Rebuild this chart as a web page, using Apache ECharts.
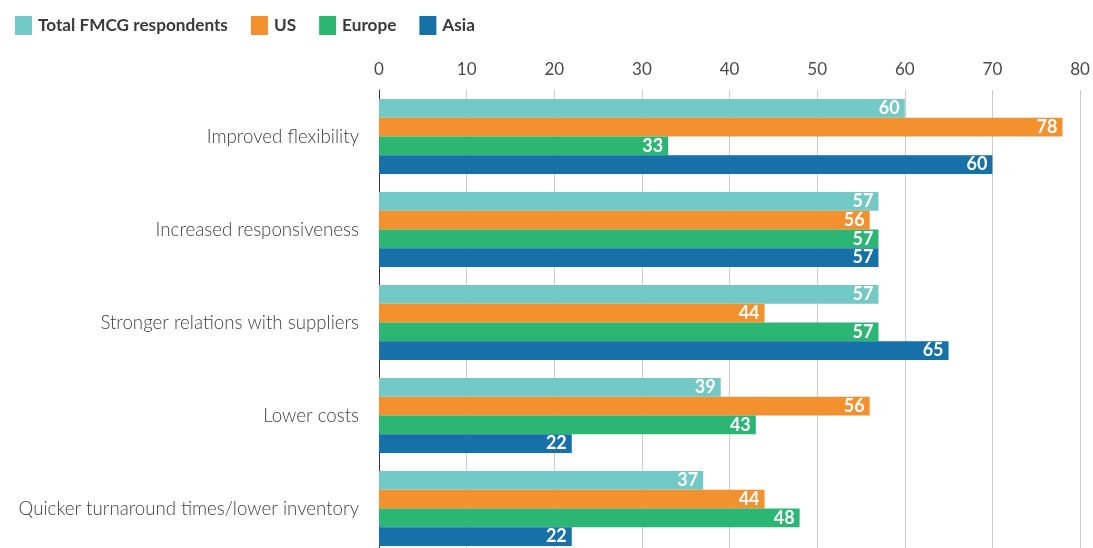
<!DOCTYPE html>
<html><head><meta charset="utf-8">
<script src="https://cdn.jsdelivr.net/npm/echarts@6/dist/echarts.min.js"></script>
<style>html,body{margin:0;padding:0;background:#fff;overflow:hidden}#c{width:1093px;height:560px}</style>
</head><body><div id="c"></div>
<script>
const categories = ["Improved flexibility","Increased responsiveness","Stronger relations with suppliers","Lower costs","Quicker turnaround times/lower inventory"];
const seriesNames = ["Total FMCG respondents","US","Europe","Asia"];
const totalVals = [60,57,57,39,37];
const usVals = [78,56,44,56,44];
const europeVals = [33,57,57,43,48];
const asiaVals = [70,57,65,22,22];
// printed labels (the Asia bar for Improved flexibility is labelled 60 in the source)
const totalLabels = [60,57,57,39,37];
const usLabels = [78,56,44,56,44];
const europeLabels = [33,57,57,43,48];
const asiaLabels = [60,57,65,22,22];
const xTicks = [0,10,20,30,40,50,60,70,80];
const colors = ["#72C9C5","#F2912E","#2BB673","#1571A8"];

const vals = [totalVals, usVals, europeVals, asiaVals];
const labs = [totalLabels, usLabels, europeLabels, asiaLabels];
const chart = echarts.init(document.getElementById('c'));
chart.setOption({
  animation:false,
  legend:{
    left:10, top:11, itemWidth:17, itemHeight:19, itemGap:23,
    icon:'rect',
    textStyle:{fontFamily:'Lato', fontWeight:'bold', fontSize:17.2, color:'#3a3a3a', padding:[0,0,0,1]},
    data:seriesNames
  },
  grid:{left:379, right:13, top:90, bottom:5, containLabel:false},
  xAxis:{
    type:'value', position:'top', min:xTicks[0], max:xTicks[xTicks.length-1], interval:10,
    axisLine:{show:false}, axisTick:{show:false},
    axisLabel:{margin:12, fontFamily:'Lato', fontSize:17, color:'#4a4a4a'},
    splitLine:{show:true, lineStyle:{color:'#cccccc', width:1}}
  },
  yAxis:{
    type:'category', data:categories, inverse:true,
    axisLine:{show:true, lineStyle:{color:'#333', width:1}},
    axisTick:{show:false},
    axisLabel:{margin:20, fontFamily:'Lato', fontWeight:300, fontSize:18.7, color:'#404040'}
  },
  series: seriesNames.map((n,i)=>({
    name:n, type:'bar', data:vals[i], barWidth:18.75, barGap:'0%',
    itemStyle:{color:colors[i]},
    label:{show:true, position:'insideRight', distance:5, color:'#fff', fontFamily:'Lato', fontWeight:'bold', fontSize:18,
      formatter:p=>String(labs[i][p.dataIndex])}
  }))
});
</script></body></html>
